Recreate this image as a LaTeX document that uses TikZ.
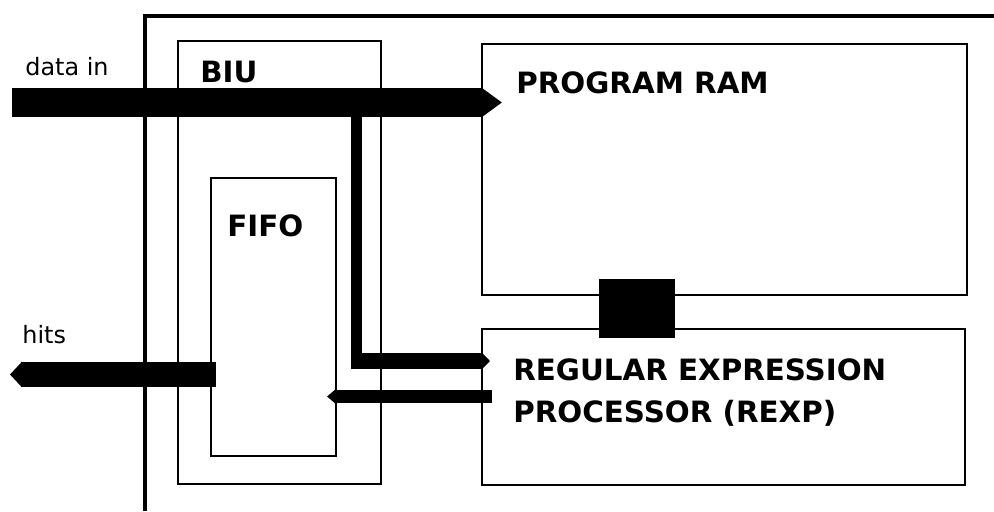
\documentclass[tikz,border=0pt]{standalone}
\usepackage{fontspec}
\setmainfont{DejaVu Sans}
\usepackage{tikz}
\usetikzlibrary{arrows.meta,positioning}

\begin{document}
\begin{tikzpicture}[
  x=0.02cm, y=-0.02cm,
  blk/.style={draw=black, line width=1.1pt, anchor=north west, inner sep=0pt},
  frame/.style={draw=black, line width=0.08cm},
  blktitle/.style={font=\bfseries\fontsize{16.7}{23.8}\selectfont, inner sep=0pt, anchor=base west, align=left},
  sig/.style={font=\fontsize{13.6}{16}\selectfont, inner sep=0pt, anchor=base west},
  wire/.style={line width=#1},
  bus/.style 2 args={line width=#1, -{Triangle[width=#1, length=#2]}}
]
\fill[white] (0,0) rectangle (994,511);
\useasboundingbox (0,0) rectangle (994,511);
\draw[frame] (145,511) |- (994,16);
\node[blk, minimum width=4.06cm, minimum height=8.86cm] (biu) at (177,40) {};
\node[blk, minimum width=2.5cm, minimum height=5.56cm] (fifo) at (210,177) {};
\node[blk, minimum width=9.7cm, minimum height=5.02cm] (ram) at (481,43) {};
\node[blk, minimum width=9.66cm, minimum height=3.12cm] (rexp) at (481,328) {};
\node[fill=black, inner sep=0pt, minimum width=1.52cm, minimum height=1.18cm] (port) at (637,308.5) {};
\node[blktitle] (biutext) at (200,82) {BIU};
\node[blktitle] (fifotext) at (227,236) {FIFO};
\node[blktitle] (ramtext) at (516,93) {PROGRAM RAM};
\node[blktitle] (rexptext) at (513,422) {REGULAR EXPRESSION\\PROCESSOR (REXP)};
\node[sig] (datatext) at (25,75) {data in};
\node[sig] (hitstext) at (22,343) {hits};
\coordinate (datain) at (12,102.5);
\coordinate (ramin) at (502,102.5);
\coordinate (tap) at (356.5,110);
\coordinate (corner) at (356.5,369);
\coordinate (turn) at (351,361);
\coordinate (rexpin) at (490,361);
\coordinate (rexpout) at (492,396.5);
\coordinate (fifoin) at (327,396.5);
\coordinate (fifoout) at (216,374.5);
\coordinate (hitsout) at (10,374.5);
\draw[bus={0.58cm}{0.42cm}] (datain) -- (ramin);
\draw[wire=0.22cm] (tap) -- (corner);
\draw[bus={0.32cm}{0.16cm}] (turn) -- (rexpin);
\draw[bus={0.26cm}{0.16cm}] (rexpout) -- (fifoin);
\draw[bus={0.5cm}{0.24cm}] (fifoout) -- (hitsout);
\end{tikzpicture}
\end{document}
